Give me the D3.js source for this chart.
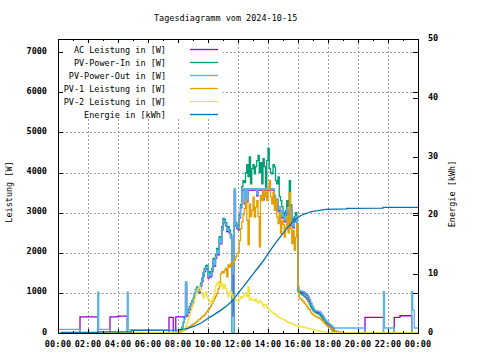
<!DOCTYPE html>
<html><head><meta charset="utf-8">
<script src="https://cdn.jsdelivr.net/npm/d3@7"></script>
<style>
body{margin:0;background:#fff}
svg text{font-family:"DejaVu Sans Mono",monospace;fill:#000}
</style></head><body>
<svg id="c" width="480" height="360"></svg>
<script>
const chartTitle = "Tagesdiagramm vom 2024-10-15";
const yLabel = "Leistung [W]";
const y2Label = "Energie [kWh]";
const seriesNames = ["AC Leistung in [W]","PV-Power-In in [W]","PV-Power-Out in [W]","PV-1 Leistung in [W]","PV-2 Leistung in [W]","Energie in [kWh]"];
const seriesColors = ["#9400d3","#009e73","#56b4e9","#e69f00","#f0e442","#0072b2"];
const xTickHours = [0,2,4,6,8,10,12,14,16,18,20,22,24];
const xTickLabels = ["00:00","02:00","04:00","06:00","08:00","10:00","12:00","14:00","16:00","18:00","20:00","22:00","00:00"];
const yTicks = [0,1000,2000,3000,4000,5000,6000,7000];
const y2Ticks = [0,10,20,30,40,50];

// daytime values every 5 minutes from 08:00 to 19:00
const dayStartHour = 8, dayStepMin = 5;
const acDay = [
 400,400,400,400,400,400,1200,420,510,590,670,730,
 790,930,1030,1080,1030,1000,1170,1290,1420,1530,1590,1620,
 1370,1450,1400,1530,1780,1670,1870,2030,1950,2320,2220,2570,
 2780,2750,2670,2530,2570,2490,2370,1420,420,3550,2670,2610,
 2570,2870,3120,3560,3560,3220,3560,3270,3560,3560,3560,3560,
 3560,3560,3560,3420,3560,3560,3560,3560,3320,3560,3560,3560,
 3560,3560,3560,3560,3560,3410,3170,3320,3040,3120,2870,3020,
 2870,2770,2920,3070,2970,2820,3070,2670,2620,2770,2870,2570,
 1040,1030,1020,1010,1000,980,960,930,875,810,730,650,
 590,540,530,520,510,500,470,430,380,330,280,250,
 220,190,170,140,110,0,0,0,0,0,0,0,
 0];
const pvInDay = [
 0,0,60,150,270,380,470,500,580,660,730,800,
 860,990,1090,1150,1090,1070,1240,1370,1500,1610,1670,1690,
 1450,1530,1480,1610,1860,1750,1950,2110,2030,2400,2300,2650,
 2860,2830,2750,2610,2650,2570,2450,0,0,2750,2750,2690,
 2650,2950,3200,3650,3800,3750,4000,4200,3900,4390,3720,4100,
 4200,3970,4150,4300,4430,4000,4250,3720,4350,4150,3640,4300,
 4600,4100,4000,3970,4200,4140,3800,3720,3890,3400,3300,3150,
 3000,2900,3050,3300,3150,3800,3200,2850,2750,2900,3000,2700,
 1030,1010,990,960,930,905,880,840,780,720,655,600,
 560,530,510,490,470,450,420,380,330,280,240,200,
 175,140,110,75,50,17,0,0,0,0,0,0,
 0];
const pvOutDay = [
 0,0,40,120,250,350,1280,450,540,620,700,760,
 820,960,1060,1110,1060,1030,1200,1320,1450,1560,1620,1650,
 1400,1480,1430,1560,1810,1700,1900,2060,1980,2350,2250,2600,
 2810,2780,2700,2560,2600,2520,2400,0,0,3600,2700,2640,
 2600,2900,3150,3600,3600,3250,3600,3300,3600,3600,3600,3600,
 3600,3600,3600,3450,3600,3600,3600,3600,3350,3600,3600,3600,
 3600,3600,3600,3600,3600,3440,3200,3350,3070,3150,2900,3050,
 2900,2800,2950,3100,3000,2850,3100,2700,2650,2800,2900,2600,
 1070,1060,1050,1040,1030,1010,990,960,905,840,760,680,
 620,570,560,550,540,530,500,460,410,360,310,280,
 250,220,200,170,140,125,125,125,125,125,125,125,
 125];
const pv1Day = [
 0,10,30,50,60,80,100,120,140,160,180,200,
 225,245,270,290,325,340,370,400,430,450,500,540,
 580,620,680,740,800,865,920,990,1100,1250,1480,1530,
 1500,1560,1610,1400,1700,1640,1730,1700,1780,1820,1900,1980,
 2000,2300,2600,2770,2950,3100,3300,2800,2200,3220,2900,3060,
 3390,2890,3140,3300,2900,2150,3430,3300,3560,3390,3515,3300,
 3640,3800,3390,3220,3500,3060,3350,2890,2730,3000,2480,2810,
 2700,2390,2640,2900,2500,3500,2600,2230,2560,2060,2390,2700,
 1150,870,850,810,780,740,700,660,610,575,520,480,
 450,430,410,395,380,365,340,310,280,240,210,180,
 160,140,120,100,80,60,50,40,30,25,20,17,
 0];
const pv2Day = [
 0,0,0,20,50,100,180,260,350,450,560,650,
 740,850,950,1050,1110,1150,1050,950,870,950,1030,900,
 850,780,740,820,905,1050,1180,1240,1280,1200,1155,1240,
 1110,1200,1100,1030,905,980,1030,950,865,900,820,800,
 780,850,905,880,905,950,1000,905,1150,820,870,840,
 820,800,850,780,760,800,780,720,655,720,700,640,
 600,575,540,520,490,480,450,420,400,380,365,350,
 340,320,300,280,270,255,240,230,215,200,190,180,
 175,170,160,155,145,140,130,120,115,105,95,90,
 75,70,65,58,50,45,40,35,30,28,25,22,
 20,18,15,12,10,8,5,3,0,0,0,0,
 0];

// night values: [time, value]
const acNightAM = [["00:00",0],["01:28",400],["02:39",0],["03:28",400],["04:01",420],["04:37",0],["07:24",390],["07:41",0],["07:51",400]];
const acNightPM = [["20:28",390],["21:42",0],["22:25",390],["22:48",430],["23:35",0],["24:00",0]];
const pvOutNightAM = [["00:00",90],["01:28",0],["02:39",1020],["02:43",90],["03:28",0],["04:37",1020],["04:41",80],["07:24",0],["07:41",80],["07:51",0]];
const pvOutNightPM = [["20:28",0],["21:42",1040],["21:46",125],["22:25",0],["23:35",1040],["23:39",570],["23:45",125],["24:00",125]];
const zeroNightAM = [["00:00",0]];
const zeroNightPM = [["24:00",0]];

const energyTimes = ["00:10","02:39","02:39","04:54","04:54","08:00","08:10","08:20","08:30","08:40","08:50",
 "09:00","09:10","09:20","09:30","09:40","09:50","10:00","10:10","10:20","10:30","10:40","10:50",
 "11:00","11:10","11:20","11:30","11:40","11:50","12:00","12:10","12:20","12:30","12:40","12:50",
 "13:00","13:10","13:20","13:30","13:40","13:50","14:00","14:10","14:20","14:30","14:40","14:50",
 "15:00","15:10","15:20","15:30","15:40","15:50","16:00","16:10","16:20","16:30","16:40","16:50",
 "17:00","17:20","17:50","19:15","19:15","21:40","21:40","24:00"];
const energyValues = [0.1,0.1,0.2,0.2,0.45,0.5,0.6,0.65,0.7,0.8,0.95,
 1.1,1.25,1.45,1.65,1.9,2.2,2.5,2.75,3.0,3.3,3.55,3.85,
 4.15,4.45,4.8,5.2,5.65,6.2,6.75,7.3,7.8,8.35,8.9,9.45,
 10.0,10.55,11.1,11.65,12.2,12.8,13.5,14.1,14.7,15.3,15.85,16.4,
 16.95,17.5,18.0,18.45,18.95,19.35,19.65,19.95,20.15,20.3,20.45,20.6,
 20.7,20.8,21.04,21.1,21.2,21.25,21.37,21.37];

const parseHM = s => { const [h, m] = s.split(":").map(Number); return h + m / 60; };
function buildSeries(am, day, pm) {
  const pts = am.map(([t, v]) => [parseHM(t), v]);
  day.forEach((v, i) => pts.push([dayStartHour + i * dayStepMin / 60, v]));
  pm.forEach(([t, v]) => pts.push([parseHM(t), v]));
  return pts;
}
const powerSeries = [
  buildSeries(acNightAM, acDay, acNightPM),
  buildSeries(zeroNightAM, pvInDay, zeroNightPM),
  buildSeries(pvOutNightAM, pvOutDay, pvOutNightPM),
  buildSeries(zeroNightAM, pv1Day, zeroNightPM),
  buildSeries(zeroNightAM, pv2Day, zeroNightPM)
];
const energySeries = energyTimes.map((t, i) => [parseHM(t), energyValues[i]]);

const L = 58, R = 418, T = 39, B = 333;
const x = d3.scaleLinear().domain([0, 24]).range([L, R]);
const y = d3.scaleLinear().domain([0, 7330]).range([B, T]);
const y2 = d3.scaleLinear().domain([0, 50]).range([B, T]);

const svg = d3.select("#c");
svg.append("rect").attr("width", 480).attr("height", 360).attr("fill", "#fff");

// grid
const grid = svg.append("g").attr("stroke", "#a0a0a0").attr("stroke-width", 1).attr("stroke-dasharray", "2,2").attr("shape-rendering", "crispEdges");
yTicks.filter(v => v > 0).forEach(v => grid.append("line").attr("x1", L).attr("x2", R).attr("y1", Math.round(y(v)) + 0.5).attr("y2", Math.round(y(v)) + 0.5));
xTickHours.filter(h => h > 0 && h < 24).forEach(h => grid.append("line").attr("y1", T).attr("y2", B).attr("x1", Math.round(x(h)) + 0.5).attr("x2", Math.round(x(h)) + 0.5));

// key background
svg.append("rect").attr("x", L).attr("y", T).attr("width", 165).attr("height", 80).attr("fill", "#fff");

// data
const stepLine = d3.line().x(d => x(d[0])).y(d => y(d[1])).curve(d3.curveStepAfter);
powerSeries.forEach((s, i) => {
  svg.append("path").attr("d", stepLine(s)).attr("fill", "none").attr("stroke", seriesColors[i]).attr("stroke-width", 1.3).attr("stroke-linejoin", "miter");
});
const eLine = d3.line().x(d => x(d[0])).y(d => y2(d[1]));
svg.append("path").attr("d", eLine(energySeries)).attr("fill", "none").attr("stroke", seriesColors[5]).attr("stroke-width", 1.3);

// border & ticks
const ax = svg.append("g").attr("stroke", "#000").attr("stroke-width", 1).attr("shape-rendering", "crispEdges");
ax.append("rect").attr("x", L + 0.5).attr("y", T + 0.5).attr("width", R - L).attr("height", B - T).attr("fill", "none");
yTicks.forEach(v => {
  const yy = Math.round(y(v)) + 0.5;
  ax.append("line").attr("x1", L).attr("x2", L + 5).attr("y1", yy).attr("y2", yy);
  ax.append("line").attr("x1", R - 5).attr("x2", R).attr("y1", yy).attr("y2", yy);
});
y2Ticks.forEach(v => {
  const yy = Math.round(y2(v)) + 0.5;
  ax.append("line").attr("x1", R - 5).attr("x2", R).attr("y1", yy).attr("y2", yy);
});
d3.range(0, 25).forEach(h => {
  const xx = Math.round(x(h)) + 0.5, len = h % 2 === 0 ? 4 : 2;
  ax.append("line").attr("x1", xx).attr("x2", xx).attr("y1", B - len).attr("y2", B);
  ax.append("line").attr("x1", xx).attr("x2", xx).attr("y1", T).attr("y2", T + len);
});

// tick labels
const tl = svg.append("g").attr("font-size", 8.5).attr("font-weight", "bold");
yTicks.forEach(v => tl.append("text").attr("x", 47).attr("y", y(v) + 1.5).attr("text-anchor", "end").text(v));
y2Ticks.forEach(v => tl.append("text").attr("x", 428).attr("y", y2(v) + 2).attr("text-anchor", "start").text(v));
xTickHours.forEach((h, i) => tl.append("text").attr("x", x(h)).attr("y", 347).attr("text-anchor", "middle").attr("font-size", 8.5).attr("letter-spacing", 0.2).text(xTickLabels[i]));

// titles
svg.append("text").attr("x", 154).attr("y", 20.5).attr("font-size", 8.5).text(chartTitle);
svg.append("text").attr("transform", "translate(12,192) rotate(-90)").attr("text-anchor", "middle").attr("font-size", 8.5).text(yLabel);
svg.append("text").attr("transform", "translate(455,194) rotate(-90)").attr("text-anchor", "middle").attr("font-size", 8.5).text(y2Label);

// legend
const legendRowY = d3.scaleLinear().domain([0, 1]).range([49.5, 62.5]);
seriesNames.forEach((n, i) => {
  const yy = legendRowY(i);
  svg.append("text").attr("x", 166).attr("y", yy + 3).attr("text-anchor", "end").attr("font-size", 8.5).text(n);
  svg.append("line").attr("x1", 190).attr("x2", 218).attr("y1", yy).attr("y2", yy).attr("stroke", seriesColors[i]).attr("stroke-width", 1.3);
});
</script>
</body></html>
